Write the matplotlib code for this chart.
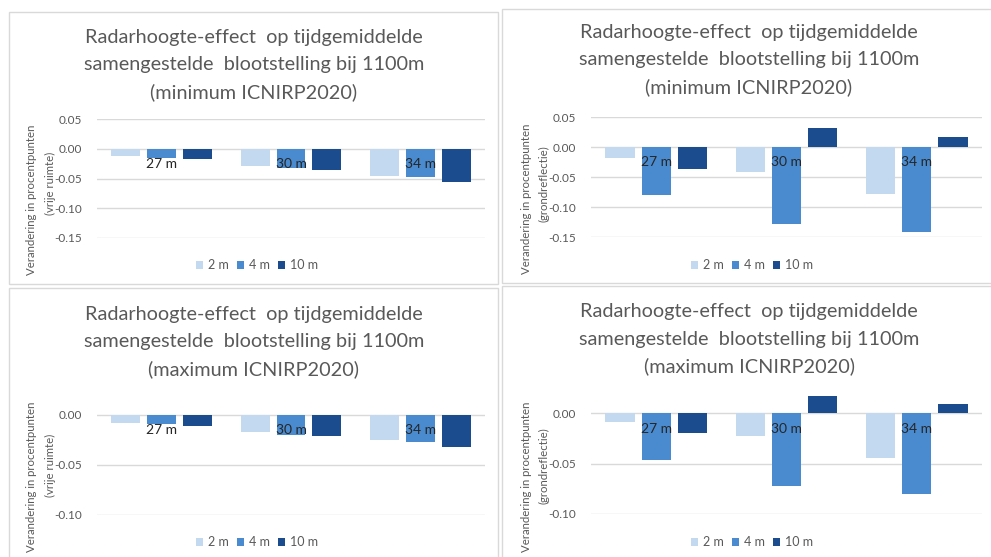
import numpy as np
import matplotlib
matplotlib.use('Agg')
import matplotlib.pyplot as plt
from matplotlib.patches import Rectangle, Patch

plt.rcParams['font.family'] = ['Lato', 'DejaVu Sans']

# categories (radar heights) and series (antenna heights)
categories = ['27 m', '30 m', '34 m']
series = ['2 m', '4 m', '10 m']
colors = ['#c3d9ef', '#4a8bcf', '#1a4c8e']

# minimum ICNIRP2020, free space
vrij_min_2m = [-0.012, -0.029, -0.045]
vrij_min_4m = [-0.015, -0.032, -0.047]
vrij_min_10m = [-0.018, -0.036, -0.056]
# minimum ICNIRP2020, ground reflection
grond_min_2m = [-0.018, -0.042, -0.078]
grond_min_4m = [-0.080, -0.128, -0.142]
grond_min_10m = [-0.036, 0.031, 0.016]
# maximum ICNIRP2020, free space
vrij_max_2m = [-0.008, -0.017, -0.025]
vrij_max_4m = [-0.009, -0.020, -0.027]
vrij_max_10m = [-0.011, -0.021, -0.032]
# maximum ICNIRP2020, ground reflection
grond_max_2m = [-0.009, -0.023, -0.044]
grond_max_4m = [-0.046, -0.072, -0.080]
grond_max_10m = [-0.020, 0.017, 0.009]

W, H = 991, 557
fig = plt.figure(figsize=(W / 100, H / 100), dpi=100)

def fx(px):
    return px / W

def fy(py):
    return 1 - py / H

title_lines = ['Radarhoogte-effect  op tijdgemiddelde',
               'samengestelde  blootstelling bij 1100m',
               '(%s ICNIRP2020)']

panels = [
    dict(box=(9, 12, 498, 284), area=(97, 485, 119, 238), ylim=(-0.15, 0.05),
         ticks=[0.05, 0.0, -0.05, -0.10, -0.15],
         data=[vrij_min_2m, vrij_min_4m, vrij_min_10m], kind='minimum',
         ylabel=['Verandering in procentpunten', '(vrije ruimte)'],
         title_x=254, title_y=64.5, legend_x=257, legend_y=265,
         ylab_x=32, ylab_y=(200, 183)),
    dict(box=(502, 9, 1000, 283), area=(591, 982, 117, 237), ylim=(-0.15, 0.05),
         ticks=[0.05, 0.0, -0.05, -0.10, -0.15],
         data=[grond_min_2m, grond_min_4m, grond_min_10m], kind='minimum',
         ylabel=['Verandering in procentpunten', '(grondreflectie)'],
         title_x=749, title_y=60, legend_x=752, legend_y=265,
         ylab_x=526, ylab_y=(199, 184)),
    dict(box=(9, 288, 498, 600), area=(97, 485, 394.7, 514.7), ylim=(-0.10, 0.02),
         ticks=[0.0, -0.05, -0.10],
         data=[vrij_max_2m, vrij_max_4m, vrij_max_10m], kind='maximum',
         ylabel=['Verandering in procentpunten', '(vrije ruimte)'],
         title_x=254, title_y=342, legend_x=257, legend_y=542,
         ylab_x=32, ylab_y=(477, 465)),
    dict(box=(502, 286, 1000, 600), area=(591, 982, 393.3, 513.7), ylim=(-0.10, 0.02),
         ticks=[0.0, -0.05, -0.10],
         data=[grond_max_2m, grond_max_4m, grond_max_10m], kind='maximum',
         ylabel=['Verandering in procentpunten', '(grondreflectie)'],
         title_x=749, title_y=339, legend_x=752, legend_y=542,
         ylab_x=526, ylab_y=(477, 466)),
]

x = np.arange(len(categories)) + 0.5
offsets = [-0.278, 0.0, 0.278]
bar_w = 0.224

for p in panels:
    bx0, by0, bx1, by1 = p['box']
    fig.patches.append(Rectangle((fx(bx0), fy(by1)), fx(bx1 - bx0), (by1 - by0) / H,
                                 transform=fig.transFigure, facecolor='white',
                                 edgecolor='#d9d9d9', lw=1, zorder=-1))
    ax0, ax1, ayt, ayb = p['area']
    ax = fig.add_axes([fx(ax0), fy(ayb), fx(ax1 - ax0), (ayb - ayt) / H])
    ax.set_facecolor('none')
    ax.set_xlim(0, 3)
    ax.set_ylim(*p['ylim'])
    for t in p['ticks']:
        ax.axhline(t, color='#d9d9d9', lw=1, zorder=0)
    ax.set_yticks(p['ticks'])
    ax.set_yticklabels(['%.2f' % t for t in p['ticks']])
    ax.tick_params(axis='y', length=0, pad=11, labelsize=8.5, labelcolor='#595959')
    ax.set_xticks([])
    for s in ax.spines.values():
        s.set_visible(False)

    for vals, off, c in zip(p['data'], offsets, colors):
        ax.bar(x + off, vals, width=bar_w, color=c, zorder=2)

    for xi, cat in zip(x, categories):
        ax.annotate(cat, (xi, 0), xytext=(0, -11), textcoords='offset points',
                    ha='center', va='center', fontsize=10, color='#262626', zorder=3)

    # three-line chart title
    for k, line in enumerate(title_lines):
        txt = line % p['kind'] if '%s' in line else line
        fig.text(fx(p['title_x']), fy(p['title_y'] + (k - 1) * 27.5), txt,
                 ha='center', va='center', fontsize=14.3, color='#595959')

    # two-line rotated y label
    for k, line in enumerate(p['ylabel']):
        fig.text(fx(p['ylab_x'] + k * 18), fy(p['ylab_y'][k]), line, rotation=90,
                 ha='center', va='center', fontsize=8.2, color='#595959')

    handles = [Patch(facecolor=c, edgecolor='none') for c in colors]
    ax.legend(handles, series, loc='center',
              bbox_to_anchor=(fx(p['legend_x']), fy(p['legend_y'])),
              bbox_transform=fig.transFigure, ncol=3, frameon=False, fontsize=9,
              labelcolor='#595959', handlelength=0.6, handleheight=0.6,
              handletextpad=0.4, columnspacing=0.6)

fig.savefig('out.png', dpi=100, facecolor='white')
